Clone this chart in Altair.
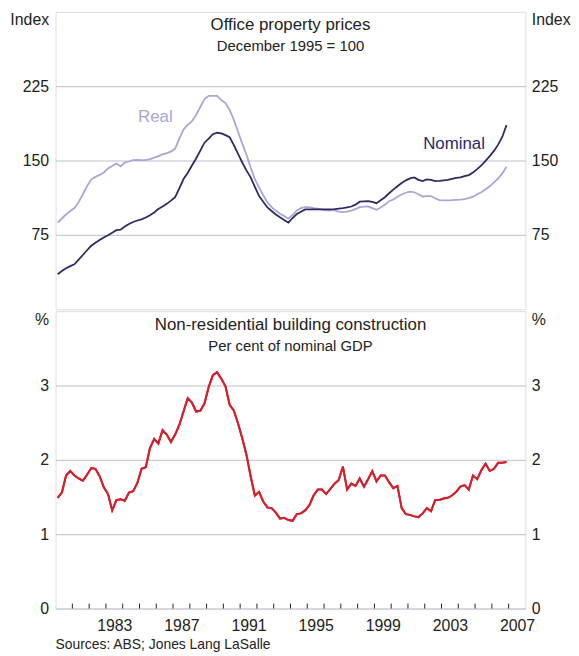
import altair as alt
import pandas as pd

# Quarterly observations, 1980Q1 .. 2006Q4
years = list(range(1980, 2007))
quarters = [1, 2, 3, 4]

# Office property prices, December 1995 = 100
nominal = [
    35.3, 38.5, 41.3, 43.5,   # 1980
    45.3, 50.0, 54.7, 59.5,   # 1981
    64.0, 67.0, 69.7, 72.3,   # 1982
    74.7, 77.2, 79.7, 80.3,   # 1983
    83.5, 86.0, 88.0, 89.5,   # 1984
    90.7, 92.5, 94.7, 97.5,   # 1985
    101.0, 103.5, 106.3, 109.5,  # 1986
    113.0, 122.0, 131.3, 137.5,  # 1987
    145.0, 152.0, 160.0, 168.0,  # 1988
    172.0, 176.5, 178.0, 177.3,  # 1989
    175.6, 173.5, 165.5, 156.7,  # 1990
    148.0, 140.0, 133.0, 123.5,  # 1991
    114.3, 108.5, 102.6, 99.1,   # 1992
    95.6, 92.7, 90.0, 87.3,      # 1993
    92.0, 96.0, 98.3, 100.7,     # 1994
    100.7, 100.7, 100.7, 100.7,  # 1995
    100.7, 100.7, 101.0, 101.5,  # 1996
    102.0, 102.8, 103.6, 105.5,  # 1997
    108.5, 108.8, 109.0, 108.3,  # 1998
    107.0, 110.0, 113.0, 117.0,  # 1999
    120.7, 124.0, 127.3, 130.0,  # 2000
    132.0, 133.0, 130.5, 129.3,  # 2001
    131.0, 130.5, 129.2, 129.5,  # 2002
    130.0, 130.5, 131.5, 132.5,  # 2003
    133.0, 134.3, 135.3, 138.0,  # 2004
    141.3, 145.0, 149.7, 154.5,  # 2005
    159.7, 166.0, 174.0, 185.7,  # 2006
]

real = [
    87.3, 91.5, 95.5, 99.0,      # 1980
    102.0, 108.0, 116.0, 124.0,  # 1981
    131.0, 133.5, 135.5, 138.0,  # 1982
    142.0, 144.5, 147.0, 144.0,  # 1983
    148.0, 149.0, 150.5, 150.7,  # 1984
    150.5, 150.3, 151.5, 153.0,  # 1985
    154.5, 156.3, 157.5, 159.0,  # 1986
    162.0, 172.0, 181.3, 186.0,  # 1987
    189.7, 196.0, 204.0, 212.0,  # 1988
    215.3, 215.3, 215.3, 211.0,  # 1989
    208.0, 201.0, 191.0, 179.0,  # 1990
    167.0, 156.0, 143.0, 131.3,  # 1991
    123.0, 115.0, 108.0, 103.0,  # 1992
    99.5, 96.3, 94.0, 91.3,      # 1993
    95.0, 99.7, 102.0, 103.0,    # 1994
    103.0, 102.0, 101.5, 100.5,  # 1995
    99.7, 99.7, 99.7, 98.5,      # 1996
    98.0, 98.5, 99.5, 101.0,     # 1997
    103.0, 103.5, 103.7, 102.0,  # 1998
    100.3, 102.5, 105.3, 109.0,  # 1999
    110.7, 113.5, 115.7, 117.5,  # 2000
    118.7, 118.0, 116.0, 113.7,  # 2001
    114.0, 114.0, 112.0, 110.0,  # 2002
    109.7, 109.8, 110.0, 110.3,  # 2003
    110.5, 111.0, 112.0, 113.5,  # 2004
    116.0, 118.0, 121.0, 124.0,  # 2005
    128.0, 132.0, 137.0, 143.7,  # 2006
]

# Non-residential building construction, per cent of nominal GDP
nonres = [
    1.49, 1.56, 1.79, 1.85,  # 1980
    1.79, 1.75, 1.72, 1.80,  # 1981
    1.89, 1.88, 1.78, 1.63,  # 1982
    1.54, 1.32, 1.46, 1.47,  # 1983
    1.45, 1.56, 1.58, 1.69,  # 1984
    1.88, 1.90, 2.16, 2.28,  # 1985
    2.22, 2.40, 2.34, 2.24,  # 1986
    2.34, 2.47, 2.65, 2.83,  # 1987
    2.77, 2.65, 2.66, 2.76,  # 1988
    2.98, 3.14, 3.18, 3.09,  # 1989
    2.99, 2.74, 2.66, 2.49,  # 1990
    2.29, 2.07, 1.78, 1.52,  # 1991
    1.57, 1.44, 1.36, 1.35,  # 1992
    1.29, 1.21, 1.22, 1.19,  # 1993
    1.18, 1.27, 1.28, 1.32,  # 1994
    1.39, 1.52, 1.60, 1.60,  # 1995
    1.54, 1.61, 1.68, 1.73,  # 1996
    1.91, 1.60, 1.68, 1.65,  # 1997
    1.75, 1.64, 1.74, 1.85,  # 1998
    1.71, 1.79, 1.79, 1.70,  # 1999
    1.62, 1.65, 1.35, 1.27,  # 2000
    1.26, 1.24, 1.23, 1.28,  # 2001
    1.35, 1.31, 1.46, 1.46,  # 2002
    1.48, 1.49, 1.52, 1.57,  # 2003
    1.64, 1.66, 1.60, 1.79,  # 2004
    1.74, 1.86, 1.95, 1.85,  # 2005
    1.88, 1.96, 1.96, 1.97,  # 2006
]

tick_years = list(range(1981, 2008))
label_years = [1983, 1987, 1991, 1995, 1999, 2003, 2007]
top_ticks = [75, 150, 225]
bottom_ticks = [0, 1, 2, 3]

# mid-quarter position in decimal years
t = [y + (q - 0.5) / 4 for y in years for q in quarters]
top_df = pd.DataFrame({"t": t, "nominal": nominal, "real": real})
bot_df = pd.DataFrame({"t": t, "nonres": nonres})
tick_df = pd.DataFrame({"yr": tick_years})

W, H = 474, 300
FONT = "Liberation Sans"
TXT = "#222222"
GRID = "#b9bfca"
REAL = "#a9a5d7"
NOM = "#2b2a64"
RED = "#d4202c"

xs = alt.Scale(domain=[1980, 2008], nice=False, zero=False)
ys_top = alt.Scale(domain=[0, 300], nice=False)
ys_bot = alt.Scale(domain=[0, 4], nice=False)

common = dict(ticks=False, domain=False, labelFontSize=16, labelColor=TXT,
              titleFontSize=16, titleFontWeight="normal", titleColor=TXT,
              titleAngle=0, titleBaseline="alphabetic", titleY=13, titleFont=FONT,
              labelFont=FONT)


def left_axis(vals, title):
    return alt.Axis(orient="left", values=vals, grid=True, gridColor=GRID, gridWidth=1,
                    labelPadding=7, minExtent=47, maxExtent=47, title=title,
                    titleAlign="right", titleX=-7, **common)


def right_axis(vals, title):
    return alt.Axis(orient="right", values=vals, grid=False, labelPadding=6,
                    minExtent=40, maxExtent=40, title=title, titleAlign="left",
                    titleX=6, **common)


def text_at(s, px, py, size, color=TXT, align="center"):
    return alt.Chart(pd.DataFrame({"s": [s]})).mark_text(
        fontSize=size, color=color, align=align, baseline="alphabetic", font=FONT
    ).encode(x=alt.value(px), y=alt.value(py), text="s:N")


def label_at(s, xv, yv, yscale, color, xaxis=None, size=17):
    return alt.Chart(pd.DataFrame({"s": [s], "x": [xv], "y": [yv]})).mark_text(
        fontSize=size, color=color, align="center", baseline="alphabetic", font=FONT
    ).encode(x=alt.X("x:Q", scale=xs, axis=xaxis),
             y=alt.Y("y:Q", scale=yscale, axis=None), text="s:N")


# ---- top panel ----
tb = alt.Chart(top_df)
real_line = tb.mark_line(color=REAL, strokeWidth=1.8).encode(
    x=alt.X("t:Q", scale=xs, axis=None),
    y=alt.Y("real:Q", scale=ys_top, axis=left_axis(top_ticks, "Index")))
nom_line = tb.mark_line(color=NOM, strokeWidth=1.8).encode(
    x=alt.X("t:Q", scale=xs, axis=None),
    y=alt.Y("nominal:Q", scale=ys_top, axis=right_axis(top_ticks, "Index")))

top = alt.layer(
    real_line, nom_line,
    text_at("Office property prices", W / 2, 18, 17),
    text_at("December 1995 = 100", W / 2, 40, 15),
    label_at("Real", 1985.95, 189, ys_top, REAL),
    label_at("Nominal", 2003.75, 161.5, ys_top, NOM),
).resolve_axis(y="independent").properties(width=W, height=H)

# ---- bottom panel ----
bb = alt.Chart(bot_df)
xaxis = alt.Axis(values=[y + 0.5 for y in label_years], labelExpr="floor(datum.value)",
                 ticks=False, domain=False, grid=False, labelPadding=9, labelFontSize=16,
                 labelColor=TXT, labelFont=FONT, title=None, labelOverlap=False,
                 labelFlush=False)
red_left = bb.mark_line(color=RED, strokeWidth=2).encode(
    x=alt.X("t:Q", scale=xs, axis=xaxis),
    y=alt.Y("nonres:Q", scale=ys_bot, axis=left_axis(bottom_ticks, "%")))
red_right = bb.mark_line(color=RED, strokeWidth=2).encode(
    x=alt.X("t:Q", scale=xs, axis=xaxis),
    y=alt.Y("nonres:Q", scale=ys_bot, axis=right_axis(bottom_ticks, "%")))
ticks = alt.Chart(tick_df).mark_rule(color=TXT, strokeWidth=1).encode(
    x=alt.X("yr:Q", scale=xs, axis=xaxis), y=alt.value(H), y2=alt.value(H - 5))

bottom = alt.layer(
    red_left, red_right, ticks,
    text_at("Non-residential building construction", W / 2, 19, 17),
    text_at("Per cent of nominal GDP", W / 2, 40, 15),
    text_at("Sources: ABS; Jones Lang LaSalle", 0, 341, 14, align="left"),
).resolve_axis(y="independent").properties(width=W, height=H)

chart = alt.vconcat(top, bottom, spacing=0).properties(
    padding={"left": 0, "top": 0, "right": 0, "bottom": 0}
).configure_view(stroke=TXT, strokeWidth=1.8).configure(font=FONT)

chart.save("out.html", embed_options={"renderer": "svg", "actions": False})
